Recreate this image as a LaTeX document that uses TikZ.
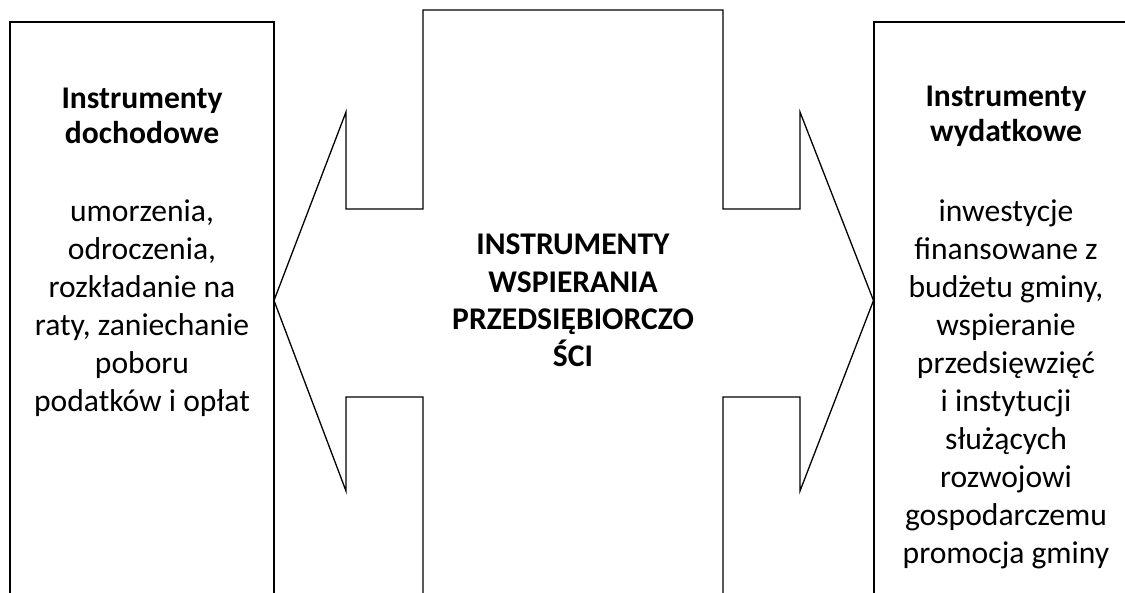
\documentclass[tikz,border=0pt]{standalone}
\usepackage{fontspec}
\setmainfont{Carlito}
\begin{document}
\begin{tikzpicture}[x=1pt,y=-1pt,
  boxline/.style={line width=1.9pt},
  arrowline/.style={line width=1.3pt, line join=miter},
  txt/.style={align=center, inner sep=0pt, font=\fontsize{31.6}{38}\selectfont},
  head/.style={align=center, inner sep=0pt, font=\fontsize{31.6}{35}\selectfont\bfseries}]
\useasboundingbox (0,0) rectangle (1125,593);

% open-bottom side panels
\coordinate (Lbl) at (10,600);
\coordinate (Ltl) at (10,22);
\coordinate (Ltr) at (274,22);
\coordinate (Lbr) at (274,600);
\draw[boxline] (Lbl) -- (Ltl) -- (Ltr) -- (Lbr);

\coordinate (Rbl) at (874,600);
\coordinate (Rtl) at (874,22);
\coordinate (Rtr) at (1140,22);
\draw[boxline] (Rbl) -- (Rtl) -- (Rtr);

% central double-headed arrow shape
\coordinate (Ltip) at (274,300.5);
\coordinate (Rtip) at (873.5,300.5);
\draw[arrowline] (423,600) -- (423,397) -- (346,397) -- (346,491) -- (Ltip)
  -- (346,112) -- (346,209) -- (423,209) -- (423,10) -- (723,10)
  -- (723,209) -- (800,209) -- (800,112) -- (Rtip) -- (800,491)
  -- (800,397) -- (723,397) -- (723,600);

% texts
\node[head] (lhead) at (142,116) {Instrumenty\\dochodowe};
\node[txt] (lbody) at (142,308) {umorzenia,\\odroczenia,\\rozkładanie na\\raty, zaniechanie\\poboru\\podatków i opłat};

\node[head] (chead) at (573,300) {INSTRUMENTY\\[3pt]WSPIERANIA\\[2pt]PRZEDSIĘBIORCZO\\[2pt]ŚCI};

\node[head] (rhead) at (1006,116) {Instrumenty\\wydatkowe};
\node[txt] (rbody) at (1006,384) {inwestycje\\finansowane z\\budżetu gminy,\\wspieranie\\przedsięwzięć\\i instytucji\\służących\\rozwojowi\\gospodarczemu\\promocja gminy};
\end{tikzpicture}
\end{document}
